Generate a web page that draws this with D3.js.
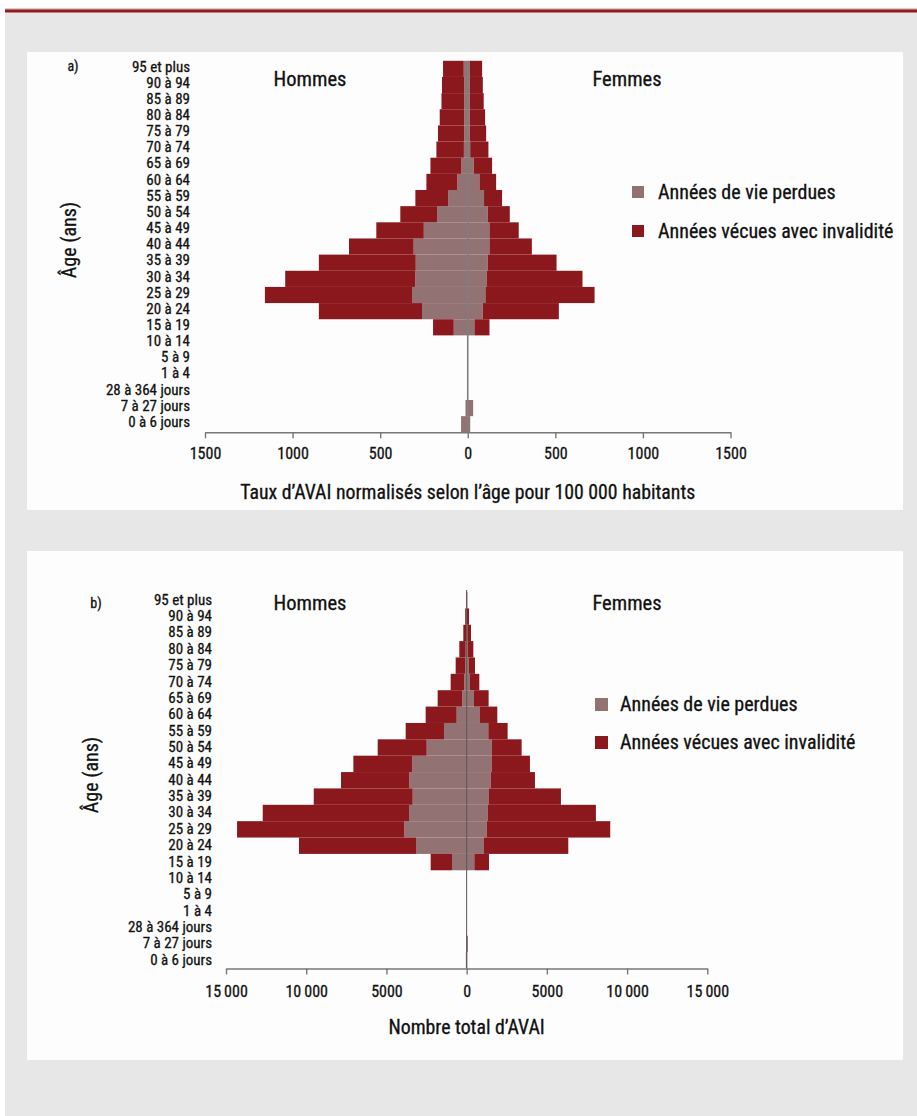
<!DOCTYPE html>
<html><head><meta charset="utf-8">
<script src="https://cdn.jsdelivr.net/npm/d3@7"></script>
<style>
html,body{margin:0;padding:0;background:#fff;}
svg text{font-family:"Liberation Sans Narrow","Arial Narrow","Roboto Condensed",sans-serif;fill:#111;stroke:#111;stroke-width:0.3px;}
</style></head>
<body>
<svg id="c" width="917" height="1116"></svg>
<script>
const ages = ["95 et plus","90 à 94","85 à 89","80 à 84","75 à 79","70 à 74","65 à 69","60 à 64","55 à 59","50 à 54","45 à 49","40 à 44","35 à 39","30 à 34","25 à 29","20 à 24","15 à 19","10 à 14","5 à 9","1 à 4","28 à 364 jours","7 à 27 jours","0 à 6 jours"];
const seriesNames = ["Années de vie perdues","Années vécues avec invalidité"];
// Panel a: taux normalisés pour 100 000
const aMenYLL   = [23,20,20,20,20,22,36,59,112,175,251,309,297,299,318,261,80,0,0,0,0,13,38];
const aMenYLD   = [118,127,130,140,150,157,177,177,187,210,271,369,553,743,840,589,118,0,0,0,0,0,0];
const aWomenYLL = [12,12,12,12,12,14,34,67,93,114,124,124,114,109,101,86,38,0,0,0,0,31,14];
const aWomenYLD = [70,74,79,87,93,104,105,95,103,126,167,242,393,546,623,434,86,0,0,0,0,0,0];
// Panel b: nombre total
const bMenYLL   = [10,20,40,60,100,150,270,623,1413,2492,3385,3572,3364,3594,3884,3157,914,0,0,0,0,30,50];
const bMenYLD   = [30,70,168,397,585,847,1537,1931,2387,3053,3675,4258,6166,9116,10426,7293,1329,0,0,0,0,0,0];
const bWomenYLL = [10,20,40,60,120,208,457,830,1350,1558,1558,1495,1392,1308,1246,1080,478,0,0,0,0,80,40];
const bWomenYLD = [30,130,230,355,399,581,913,1080,1204,1869,2387,2763,4485,6749,7704,5255,914,0,0,0,0,0,0];
const aTicks = [-1500,-1000,-500,0,500,1000,1500];
const bTicks = [-15000,-10000,-5000,0,5000,10000,15000];

const RED = "#8b181c", GREY = "#927272";
const svg = d3.select("#c");
svg.append("rect").attr("x",5).attr("y",9).attr("width",912).attr("height",1107).attr("fill","#e6e7e6");
svg.append("rect").attr("x",5).attr("y",8.5).attr("width",912).attr("height",1).attr("fill","#b79a9a");
svg.append("rect").attr("x",5).attr("y",9.5).attr("width",912).attr("height",3).attr("fill","#951a1a");
svg.append("rect").attr("x",27).attr("y",52).attr("width",876).attr("height",458).attr("fill","#fdfdfd");
svg.append("rect").attr("x",27).attr("y",551).attr("width",876).attr("height",509).attr("fill","#fdfdfd");

function fmt(v){ v=Math.abs(v); return v>=10000 ? d3.format(",")(v).replace(/,/g,"\u2009") : String(v); }

function panel(o){
  const x = d3.scaleLinear().domain([o.ticks[0],o.ticks[o.ticks.length-1]]).range(o.xr);
  const y = d3.scaleBand().domain(ages).range(o.yr).padding(0);
  const g = svg.append("g");
  const rows = ages.map((a,i)=>({a, my:o.my[i], md:o.md[i], wy:o.wy[i], wd:o.wd[i]}));
  g.selectAll(null).data(rows.filter(r=>r.my>0)).join("rect")
    .attr("x",r=>x(-r.my)).attr("width",r=>x(0)-x(-r.my))
    .attr("y",r=>y(r.a)).attr("height",y.bandwidth()).attr("fill",GREY);
  g.selectAll(null).data(rows.filter(r=>r.md>0)).join("rect")
    .attr("x",r=>x(-(r.my+r.md))).attr("width",r=>x(-r.my)-x(-(r.my+r.md)))
    .attr("y",r=>y(r.a)).attr("height",y.bandwidth()).attr("fill",RED);
  g.selectAll(null).data(rows.filter(r=>r.wy>0)).join("rect")
    .attr("x",x(0)).attr("width",r=>x(r.wy)-x(0))
    .attr("y",r=>y(r.a)).attr("height",y.bandwidth()).attr("fill",GREY);
  g.selectAll(null).data(rows.filter(r=>r.wd>0)).join("rect")
    .attr("x",r=>x(r.wy)).attr("width",r=>x(r.wy+r.wd)-x(r.wy))
    .attr("y",r=>y(r.a)).attr("height",y.bandwidth()).attr("fill",RED);
  g.append("line").attr("x1",x(0)).attr("x2",x(0)).attr("y1",o.zTop).attr("y2",o.yr[1])
    .attr("stroke",o.zCol).attr("stroke-width",o.zW);
  const ax = g.append("g").attr("transform",`translate(0,${o.yr[1]})`)
    .call(d3.axisBottom(x).tickValues(o.ticks).tickFormat(fmt).tickSizeInner(6).tickSizeOuter(0).tickPadding(o.tp));
  ax.select(".domain").attr("stroke","#777").attr("stroke-width",1.6);
  ax.selectAll(".tick line").attr("stroke","#777").attr("stroke-width",1.4);
  ax.selectAll(".tick text").attr("font-size",16).attr("fill","#111");
  const ay = g.append("g").attr("transform",`translate(${o.lx},0)`)
    .call(d3.axisLeft(y).tickSize(0).tickPadding(0));
  ay.select(".domain").remove();
  ay.selectAll(".tick text").attr("font-size",15).attr("dy",o.ldy).attr("fill","#111");
  g.append("text").attr("x",o.tag[0]).attr("y",o.tag[1]).attr("font-size",14).attr("text-anchor","middle").attr("dy","0.35em").text(o.tagText);
  g.append("text").attr("x",310).attr("y",o.hy).attr("font-size",20.5).attr("text-anchor","middle").attr("dy","0.35em").text("Hommes");
  g.append("text").attr("x",627).attr("y",o.hy).attr("font-size",20.5).attr("text-anchor","middle").attr("dy","0.35em").text("Femmes");
  g.append("text").attr("transform",`translate(${o.yt[0]},${o.yt[1]}) rotate(-90)`).attr("font-size",20)
    .attr("text-anchor","middle").attr("dy","0.35em").text("Âge (ans)");
  g.append("text").attr("x",x(0)).attr("y",o.xt).attr("font-size",19.8).attr("text-anchor","middle").attr("dy","0.35em").text(o.xtitle);
  const lg = g.append("g").selectAll(null).data(seriesNames).join("g")
    .attr("transform",(d,i)=>`translate(${o.leg[0]},${o.leg[1]+i*o.leg[2]})`);
  lg.append("rect").attr("x",0).attr("y",-6).attr("width",o.leg[3]).attr("height",o.leg[3]).attr("fill",(d,i)=>i?RED:GREY);
  lg.append("text").attr("x",o.leg[4]).attr("y",0).attr("dy","0.35em").attr("font-size",20).text(d=>d);
}

panel({ticks:aTicks, xr:[205,730.5], yr:[60.8,432.3], my:aMenYLL, md:aMenYLD, wy:aWomenYLL, wd:aWomenYLD,
  zTop:60.8, zCol:"#7f7f7f", zW:1.6, tp:9, lx:190, ldy:"0.18em", tag:[73,66], tagText:"a)", hy:79,
  yt:[69,240], xt:492, xtitle:"Taux d’AVAI normalisés selon l’âge pour 100 000 habitants",
  leg:[632,192,39,12,26]});
panel({ticks:bTicks, xr:[226,707.3], yr:[592,968.5], my:bMenYLL, md:bMenYLD, wy:bWomenYLL, wd:bWomenYLD,
  zTop:590, zCol:"#555", zW:1, tp:11, lx:212, ldy:"0.3em", tag:[96,603], tagText:"b)", hy:603,
  yt:[91,775], xt:1027, xtitle:"Nombre total d’AVAI",
  leg:[595,704,38,13,25]});
</script>
</body></html>
